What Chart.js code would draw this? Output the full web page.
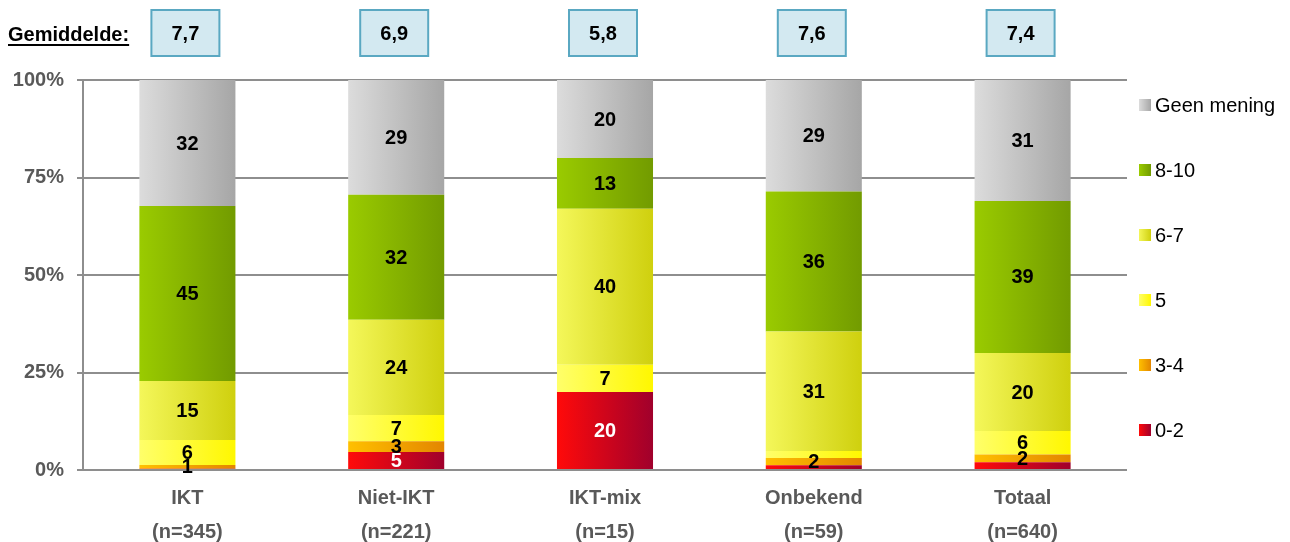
<!DOCTYPE html>
<html>
<head>
<meta charset="utf-8">
<title>Gemiddelde rapportcijfer</title>
<script src="https://cdn.jsdelivr.net/npm/chart.js@4/dist/chart.umd.min.js"></script>
<style>
  html, body { margin: 0; padding: 0; background: #fff; }
  #wrap { width: 1290px; height: 542px; }
</style>
</head>
<body>
<div id="wrap"><canvas id="chart" width="1290" height="542"></canvas></div>
<script>
const categories = ['IKT', 'Niet-IKT', 'IKT-mix', 'Onbekend', 'Totaal'];
const sampleSizes = ['(n=345)', '(n=221)', '(n=15)', '(n=59)', '(n=640)'];
const averages = ['7,7', '6,9', '5,8', '7,6', '7,4'];
const seriesNames = ['0-2', '3-4', '5', '6-7', '8-10', 'Geen mening'];

// percentages per category, bottom to top
const score02 = [0.3, 4.6, 20, 1.2, 2];
const score34 = [1, 2.8, 0, 1.9, 2];
const score5 = [6.4, 6.7, 7, 1.8, 6];
const score67 = [15.1, 24.4, 40, 30.6, 20];
const score810 = [44.9, 32.1, 13, 35.9, 39];
const noOpinion = [32.3, 29.4, 20, 28.6, 31];

const yTicks = [0, 25, 50, 75, 100];

// thin segments that carry no number: [series, category]
const unlabeled = [[0, 0], [0, 3], [2, 3], [0, 4]];

// left / right colour of each segment gradient
const fills = [
  ['#ff0a0a', '#a0002c'],
  ['#ffc000', '#e38600'],
  ['#ffff6a', '#fff700'],
  ['#f4f75a', '#cfd00e'],
  ['#9acb00', '#729b00'],
  ['#dcdcdc', '#a6a6a6']
];

const barShare = 0.46;
const font = "'Liberation Sans', Arial, sans-serif";
const axisGrey = '#8e8e8e';

function segmentFill(ctx, k) {
  const chart = ctx.chart;
  const area = chart.chartArea;
  if (!area || !chart.scales.x) return fills[k][0];
  const x = chart.scales.x.getPixelForValue(ctx.dataIndex);
  const half = (area.right - area.left) / categories.length * barShare / 2;
  const g = chart.ctx.createLinearGradient(x - half, 0, x + half, 0);
  g.addColorStop(0, fills[k][0]);
  g.addColorStop(1, fills[k][1]);
  return g;
}

const seriesValues = [score02, score34, score5, score67, score810, noOpinion];

const datasets = seriesValues.map((values, k) => ({
  label: seriesNames[k],
  data: values,
  backgroundColor: ctx => segmentFill(ctx, k),
  borderWidth: 0,
  barPercentage: barShare,
  categoryPercentage: 1
}));

// numbers inside the segments
const segmentLabels = {
  id: 'segmentLabels',
  afterDatasetsDraw(chart) {
    const c = chart.ctx;
    c.save();
    c.font = 'bold 20px ' + font;
    c.textAlign = 'center';
    c.textBaseline = 'middle';
    chart.data.datasets.forEach((ds, k) => {
      const meta = chart.getDatasetMeta(k);
      meta.data.forEach((bar, j) => {
        const v = ds.data[j];
        if (v <= 0) return;
        if (unlabeled.some(p => p[0] === k && p[1] === j)) return;
        const { x, y, base } = bar.getProps(['x', 'y', 'base'], true);
        c.fillStyle = k === 0 ? '#ffffff' : '#000000';
        c.fillText(String(Math.round(v)), x, (y + base) / 2 + 1);
      });
    });
    c.restore();
  }
};

// "Gemiddelde:" row with a box above each bar
const averageBoxes = {
  id: 'averageBoxes',
  afterDraw(chart) {
    const c = chart.ctx;
    c.save();
    c.font = 'bold 20px ' + font;
    c.fillStyle = '#000';
    c.textBaseline = 'middle';
    c.textAlign = 'left';
    const caption = 'Gemiddelde:';
    c.fillText(caption, 8, 35);
    const w = c.measureText(caption).width;
    c.fillRect(8, 44, w, 2);

    c.textAlign = 'center';
    averages.forEach((avg, j) => {
      const x = chart.scales.x.getPixelForValue(j) - 2;
      c.fillStyle = '#d3e9f1';
      c.fillRect(x - 34, 10, 68, 46);
      c.strokeStyle = '#5aa8c2';
      c.lineWidth = 2;
      c.strokeRect(x - 34, 10, 68, 46);
      c.fillStyle = '#000';
      c.fillText(avg, x, 34);
    });
    c.restore();
  }
};

// legend on the right, top item is the top segment
const sideLegend = {
  id: 'sideLegend',
  afterDraw(chart) {
    const c = chart.ctx;
    const area = chart.chartArea;
    const step = (area.bottom - area.top) / seriesNames.length;
    c.save();
    c.font = '20px ' + font;
    c.textBaseline = 'middle';
    c.textAlign = 'left';
    seriesNames.slice().reverse().forEach((name, i) => {
      const k = seriesNames.length - 1 - i;
      const y = area.top + 25 + i * step;
      const bx = area.right + 12;
      const g = c.createLinearGradient(bx, 0, bx + 12, 0);
      g.addColorStop(0, fills[k][0]);
      g.addColorStop(1, fills[k][1]);
      c.fillStyle = g;
      c.fillRect(bx, y - 6, 12, 12);
      c.fillStyle = '#000';
      c.fillText(name, area.right + 28, y + 1);
    });
    c.restore();
  }
};

new Chart(document.getElementById('chart'), {
  type: 'bar',
  data: {
    labels: categories.map((cat, j) => [cat, sampleSizes[j]]),
    datasets: datasets
  },
  options: {
    responsive: false,
    animation: false,
    layout: { padding: { top: 80, right: 163, left: 0, bottom: 0 } },
    plugins: {
      legend: { display: false },
      tooltip: { enabled: false }
    },
    scales: {
      x: {
        stacked: true,
        grid: { display: false, drawTicks: false },
        border: { display: false },
        ticks: {
          padding: 11,
          color: '#595959',
          font: { family: font, size: 20, weight: 'bold', lineHeight: 1.7 }
        },
        afterFit(scale) { scale.height = 72; }
      },
      y: {
        stacked: true,
        min: 0,
        max: 100,
        afterBuildTicks(scale) { scale.ticks = yTicks.map(v => ({ value: v })); },
        grid: { color: axisGrey, lineWidth: 2, tickLength: 6 },
        border: { display: true, color: axisGrey, width: 2 },
        ticks: {
          padding: 13,
          color: '#595959',
          font: { family: font, size: 20, weight: 'bold' },
          callback: v => v + '%'
        },
        afterFit(scale) { scale.width = 83; }
      }
    }
  },
  plugins: [segmentLabels, averageBoxes, sideLegend]
});
</script>
</body>
</html>
